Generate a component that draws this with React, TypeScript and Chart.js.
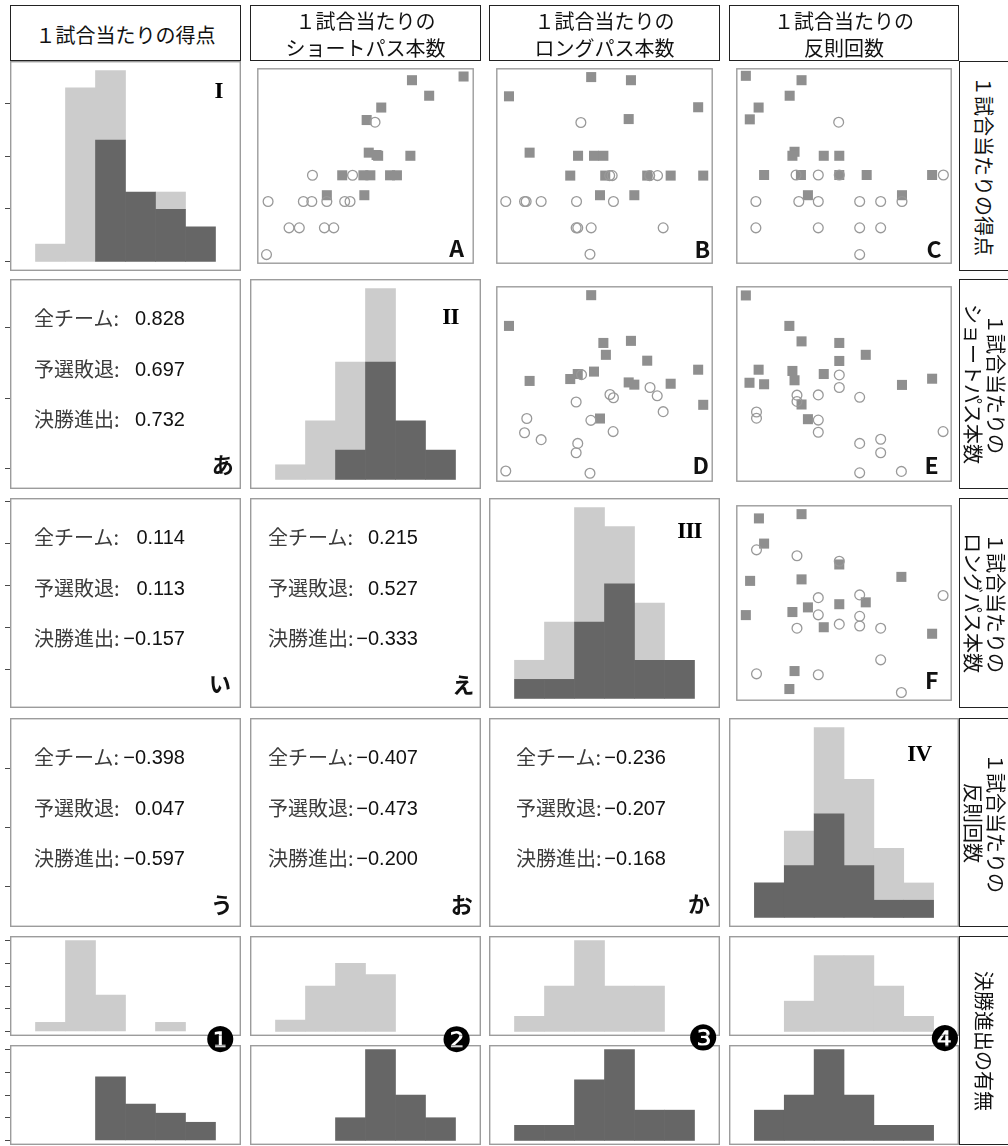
import React, { useEffect, useRef } from 'react';
import { Chart, registerables } from 'chart.js';

Chart.register(...registerables);

// ---------------- data ----------------
const binCenters = [0.5, 1.5, 2.5, 3.5, 4.5, 5.5];
const binEdges = [0, 1, 2, 3, 4, 5, 6];

// histogram counts per bin (決勝進出 = finalists, 予選敗退 = group exits)
const finalScore = [0, 0, 7, 4, 3, 2];
const exitScore = [1, 10, 4, 0, 1, 0];
const finalShort = [0, 0, 2, 8, 4, 2];
const exitShort = [1, 4, 6, 5, 0, 0];
const finalLong = [1, 1, 4, 6, 2, 2];
const exitLong = [1, 3, 6, 3, 3, 0];
const finalFoul = [2, 3, 6, 3, 1, 1];
const exitFoul = [0, 2, 5, 5, 3, 1];

// axis ticks
const scoreTicks = [0.5, 1.0, 1.5, 2.0];
const shortTicks = [300, 400, 500];
const longTicks = [50, 60, 70, 80, 90];
const foulTicks = [10, 12, 14];
const countTicks = [0, 2.5, 5, 7.5, 10];

// variable ranges (score, short passes, long passes, fouls)
const scoreRange: [number, number] = [0.4045, 2.41];
const shortRange: [number, number] = [270, 570];
const longRange: [number, number] = [40.95, 90.95];
const foulRange: [number, number] = [8.61, 15.7];

// scatter A: x = short passes, y = score
const aExits: [number, number][] = [
  [433.2, 1.856], [346.6, 1.312], [402.1, 1.312], [285.2, 1.044], [334.0, 1.044], [345.7, 1.044],
  [366.5, 1.044], [391.2, 1.044], [398.6, 1.044], [314.2, 0.774], [328.4, 0.774], [363.1, 0.774],
  [376.1, 0.774], [283.0, 0.5],
];
const aFinals: [number, number][] = [
  [555.7, 2.324], [484.3, 2.286], [508.1, 2.127], [441.8, 2.006], [421.6, 1.878], [424.5, 1.544],
  [437.5, 1.512], [482.1, 1.512], [387.8, 1.312], [417.1, 1.312], [426.7, 1.312], [454.0, 1.312],
  [463.5, 1.312], [366.5, 1.108], [418.4, 1.108], [435.3, 1.52],
];
// scatter B: x = long passes, y = score
const bExits: [number, number][] = [
  [60.5, 1.853], [67.72, 1.309], [76.38, 1.309], [78.18, 1.309], [67.14, 1.309], [43.18, 1.044],
  [47.51, 1.044], [47.88, 1.044], [51.34, 1.044], [59.5, 1.044], [68.01, 1.044], [59.41, 0.774],
  [59.78, 0.774], [62.88, 0.774], [79.48, 0.774], [62.6, 0.503],
];
const bFinals: [number, number][] = [
  [62.88, 2.318], [72.05, 2.286], [43.92, 2.121], [87.55, 2.009], [71.53, 1.888], [48.68, 1.544],
  [59.85, 1.512], [63.53, 1.512], [65.69, 1.512], [58.05, 1.309], [66.12, 1.309], [75.8, 1.309],
  [81.21, 1.309], [88.72, 1.309], [64.91, 1.108], [72.83, 1.108],
];
// scatter C: x = fouls, y = score
const cExits: [number, number][] = [
  [11.98, 1.856], [10.58, 1.315], [11.31, 1.315], [12.0, 1.315], [15.42, 1.315], [9.26, 1.044],
  [10.67, 1.044], [11.31, 1.044], [12.67, 1.044], [13.36, 1.044], [14.06, 1.044], [9.26, 0.774],
  [11.31, 0.774], [12.67, 0.774], [13.36, 0.774], [12.67, 0.5],
];
const cFinals: [number, number][] = [
  [8.93, 2.331], [10.76, 2.286], [10.37, 2.127], [9.35, 2.006], [9.06, 1.885], [10.53, 1.553],
  [10.46, 1.512], [11.49, 1.512], [12.0, 1.512], [9.53, 1.315], [10.74, 1.315], [12.0, 1.315],
  [12.9, 1.315], [15.05, 1.315], [10.97, 1.108], [14.06, 1.108],
];
// scatter D: x = long passes, y = short passes
const dExits: [number, number][] = [
  [60.65, 434.3], [76.45, 414.7], [67.21, 403.9], [68.01, 399.0], [78.11, 401.9], [59.41, 392.4],
  [79.48, 377.6], [48.03, 367.1], [62.81, 364.3], [47.51, 345.3], [67.94, 347.1], [51.34, 334.7],
  [59.78, 329.0], [59.41, 314.7], [43.18, 286.7], [62.6, 283.3],
];
const dFinals: [number, number][] = [
  [62.88, 556.1], [43.92, 509.0], [65.69, 482.9], [72.05, 486.1], [66.27, 464.7], [75.8, 455.7],
  [63.53, 439.0], [59.78, 435.3], [58.05, 427.6], [87.55, 441.9], [48.68, 424.7], [71.53, 422.4],
  [72.83, 419.0], [81.21, 420.4], [88.72, 388.1], [64.91, 367.1],
];
// scatter E: x = fouls, y = short passes
const eExits: [number, number][] = [
  [12.0, 433.9], [12.0, 414.7], [10.61, 402.9], [10.61, 393.3], [11.31, 403.3], [12.67, 399.6],
  [9.28, 377.1], [9.28, 367.6], [11.31, 364.7], [11.31, 346.1], [15.41, 347.1], [12.67, 329.0],
  [13.36, 335.3], [13.36, 314.7], [12.67, 283.9], [14.04, 286.1],
];
const eFinals: [number, number][] = [
  [8.93, 555.7], [10.36, 509.0], [10.76, 485.3], [12.0, 482.9], [12.87, 464.7], [12.0, 455.3],
  [9.35, 441.9], [10.46, 440.0], [10.53, 425.7], [11.49, 435.3], [9.05, 421.9], [9.53, 419.6],
  [14.06, 418.6], [15.05, 428.1], [10.76, 388.6], [10.97, 366.1],
];
// scatter F: x = fouls, y = long passes
const fExits: [number, number][] = [
  [9.28, 79.52], [10.61, 78.02], [12.0, 76.6], [12.67, 68.02], [11.31, 67.31], [15.41, 67.86],
  [11.31, 62.93], [12.67, 62.55], [10.61, 59.52], [12.0, 60.55], [12.67, 60.07], [13.36, 59.52],
  [13.36, 51.43], [9.28, 47.86], [11.31, 47.62], [14.04, 43.1],
];
const fFinals: [number, number][] = [
  [9.36, 87.55], [10.76, 88.64], [9.53, 81.12], [12.0, 75.79], [9.07, 71.6], [10.76, 71.98],
  [14.04, 72.62], [12.87, 66.12], [12.0, 65.64], [10.97, 64.83], [10.46, 63.64], [8.93, 62.86],
  [11.49, 59.76], [15.05, 58.1], [10.53, 48.57], [10.36, 43.98],
];

// correlation text
const corrLabels = ['全チーム', '予選敗退', '決勝進出'];
const corrAi = [0.828, 0.697, 0.732];
const corrI = [0.114, 0.113, -0.157];
const corrU = [-0.398, 0.047, -0.597];
const corrE = [0.215, 0.527, -0.333];
const corrO = [-0.407, -0.473, -0.2];
const corrKa = [-0.236, -0.207, -0.168];

const headerLabels = ['１試合当たりの得点', '１試合当たりの\nショートパス本数', '１試合当たりの\nロングパス本数', '１試合当たりの\n反則回数'];
const stripLabels = ['１試合当たりの得点', '１試合当たりの\nショートパス本数', '１試合当たりの\nロングパス本数', '１試合当たりの\n反則回数', '決勝進出の有無'];

// ---------------- layout ----------------
const colX = [10, 250, 489, 729];
const colW = [231, 231, 231, 230];
const rowY = [61, 279, 498, 718];
const rowH = [210, 210, 210, 209];
const botY = [936, 1045];
const botH = 100;
const AXIS = 5;

const LIGHT = '#cccccc';
const DARK = '#666666';
const SQUARE = '#8f8f8f';
const CIRCLE = '#999999';
const JP = '"Noto Sans CJK JP", "Noto Sans CJK SC", sans-serif';

const varRanges = [scoreRange, shortRange, longRange, foulRange];
const varTicks = [scoreTicks, shortTicks, longTicks, foulTicks];
const finals = [finalScore, finalShort, finalLong, finalFoul];
const exits = [exitScore, exitShort, exitLong, exitFoul];

const panelBorder = {
  id: 'panelBorder',
  afterDraw(chart: any) {
    const { ctx, chartArea: a } = chart;
    ctx.save();
    ctx.strokeStyle = '#9c9c9c';
    ctx.lineWidth = 1.4;
    ctx.strokeRect(a.left + 0.7, a.top + 0.7, a.right - a.left - 1.4, a.bottom - a.top - 1.4);
    ctx.restore();
  },
};

function setTicks(ticks: number[]) {
  return (s: any) => {
    s.ticks = ticks.map((v) => ({ value: v }));
  };
}

function hiddenAxis(range: [number, number], ticks?: number[], extra: any = {}) {
  return {
    type: 'linear',
    display: false,
    min: range[0],
    max: range[1],
    bounds: 'data',
    ...(ticks ? { afterBuildTicks: setTicks(ticks) } : {}),
    ...extra,
  };
}

function tickAxis(range: [number, number], ticks: number[], extra: any = {}) {
  return {
    type: 'linear',
    position: 'left',
    display: true,
    min: range[0],
    max: range[1],
    bounds: 'data',
    afterBuildTicks: setTicks(ticks),
    ticks: { display: false },
    grid: { display: true, drawOnChartArea: false, drawTicks: true, tickLength: AXIS, color: '#4a4a4a', lineWidth: 1 },
    border: { display: false },
    ...extra,
  };
}

function baseOptions(scales: any) {
  return {
    animation: false,
    responsive: false,
    events: [],
    layout: { padding: 0 },
    plugins: { legend: { display: false }, tooltip: { enabled: false }, title: { display: false } },
    scales,
  };
}

function bars(counts: number[], color: string) {
  return {
    data: counts.map((v, i) => ({ x: binCenters[i], y: v === 0 ? null : v })),
    backgroundColor: color, borderWidth: 0, barPercentage: 1, categoryPercentage: 1, stack: 's',
  };
}

function histConfig(fin: number[] | null, exit: number[] | null, yMax: number, axis: 'none' | 'own' | 'score') {
  const datasets: any[] = [];
  if (fin) datasets.push(bars(fin, DARK));
  if (exit) datasets.push(bars(exit, LIGHT));
  const yr: [number, number] = [-0.05 * yMax, 1.05 * yMax];
  const scales: any = {
    x: hiddenAxis([-0.3, 6.3], binEdges, { stacked: true }),
    y: axis === 'own' ? tickAxis(yr, countTicks, { stacked: true }) : hiddenAxis(yr, undefined, { stacked: true }),
  };
  if (axis === 'score') scales.ys = tickAxis(scoreRange, scoreTicks);
  return { type: 'bar', data: { datasets }, options: baseOptions(scales), plugins: [panelBorder] };
}

function scatterConfig(ex: [number, number][], fi: [number, number][], xr: [number, number], yr: [number, number]) {
  return {
    type: 'scatter',
    data: {
      datasets: [
        {
          data: ex.map(([x, y]) => ({ x, y })),
          pointStyle: 'circle', pointRadius: 4.9, borderWidth: 1.3,
          borderColor: CIRCLE, backgroundColor: 'rgba(255,255,255,0)',
        },
        {
          data: fi.map(([x, y]) => ({ x, y })),
          pointStyle: 'rect', pointRadius: 7.1, borderWidth: 0,
          borderColor: SQUARE, backgroundColor: SQUARE,
        },
      ],
    },
    options: baseOptions({ x: hiddenAxis(xr), y: hiddenAxis(yr) }),
    plugins: [panelBorder],
  };
}

function emptyConfig(rowVar: number, withAxis: boolean) {
  return {
    type: 'scatter',
    data: { datasets: [] },
    options: baseOptions({
      x: hiddenAxis([0, 1]),
      y: withAxis ? tickAxis(varRanges[rowVar], varTicks[rowVar]) : hiddenAxis(varRanges[rowVar]),
    }),
    plugins: [panelBorder],
  };
}

function ChartCanvas({ left, top, width, height, build }: any) {
  const ref = useRef<HTMLCanvasElement | null>(null);
  useEffect(() => {
    const chart = new Chart(ref.current as HTMLCanvasElement, build());
    return () => chart.destroy();
  }, []);
  return (
    <canvas
      ref={ref}
      width={width}
      height={height}
      style={{ position: 'absolute', left, top, width, height, display: 'block' }}
    />
  );
}

function fmt(v: number) {
  return (v < 0 ? '−' : '') + Math.abs(v).toFixed(3);
}

export default function App() {
  const charts: any[] = [];
  const place = (key: string, col: number, top: number, height: number, build: () => any) => {
    const left = col === 0 ? colX[0] - AXIS : colX[col];
    const width = col === 0 ? colW[0] + AXIS : colW[col];
    charts.push({ key, left, top, width, height, build });
  };

  // diagonal histograms
  for (let k = 0; k < 4; k++) {
    const m = Math.max(...finals[k].map((v, i) => v + exits[k][i]));
    place('diag' + k, k, rowY[k], rowH[k], () => histConfig(finals[k], exits[k], m, k === 0 ? 'score' : 'none'));
  }
  // scatter panels
  const scatters: [number, number, [number, number][], [number, number][]][] = [
    [0, 1, aExits, aFinals],
    [0, 2, bExits, bFinals],
    [0, 3, cExits, cFinals],
    [1, 2, dExits, dFinals],
    [1, 3, eExits, eFinals],
    [2, 3, fExits, fFinals],
  ];
  scatters.forEach(([r, c, ex, fi]) => {
    place('sc' + r + c, c, rowY[r], rowH[r], () => scatterConfig(ex, fi, varRanges[c], varRanges[r]));
  });
  // text panels
  const texts: [number, number, number[], string][] = [
    [1, 0, corrAi, 'あ'],
    [2, 0, corrI, 'い'],
    [3, 0, corrU, 'う'],
    [2, 1, corrE, 'え'],
    [3, 1, corrO, 'お'],
    [3, 2, corrKa, 'か'],
  ];
  texts.forEach(([r, c]) => {
    place('tx' + r + c, c, rowY[r], rowH[r], () => emptyConfig(r, c === 0));
  });
  // bottom row histograms
  for (let c = 0; c < 4; c++) {
    const m = Math.max(...finals[c], ...exits[c]);
    place('ba' + c, c, botY[0], botH, () => histConfig(null, exits[c], m, c === 0 ? 'own' : 'none'));
    place('bb' + c, c, botY[1], botH, () => histConfig(finals[c], null, m, c === 0 ? 'own' : 'none'));
  }

  const labelOff = [24, 18, 27];
  const valueRight = [175, 168, 177];

  const tagPos: Record<string, [number, number]> = {
    あ: [222.7, 463.3], い: [220, 681.7], う: [221.7, 903.3], え: [463.3, 682.7], お: [461.7, 903.3], か: [699, 901.7],
  };
  const letters: [string, number, number][] = [
    ['A', 456.7, 246.7], ['B', 702.3, 248.3], ['C', 934, 248.3],
    ['D', 700.7, 464.3], ['E', 931.7, 464.3], ['F', 931.7, 679.3],
  ];
  const romans: [string, number, number][] = [
    ['I', 218.5, 90], ['II', 450.5, 316], ['III', 689.5, 530], ['IV', 919.3, 752.5],
  ];
  const circled: [string, number, number][] = [
    ['❶', 220.5, 1039.5], ['❷', 456.7, 1039.5], ['❸', 703, 1038.3], ['❹', 944.7, 1039],
  ];
  const stripY = [rowY[0], rowY[1], rowY[2], rowY[3], botY[0]];
  const stripH = [rowH[0], rowH[1], rowH[2], rowH[3], botY[1] + botH - botY[0]];

  const centered = (cx: number, cy: number): React.CSSProperties => ({
    position: 'absolute', left: cx, top: cy, transform: 'translate(-50%, -50%)', lineHeight: 1, whiteSpace: 'nowrap',
  });

  return (
    <div style={{ position: 'absolute', left: 0, top: 0, width: 1008, height: 1146, overflow: 'hidden', background: '#fff' }}>
      {charts.map((c) => (
        <ChartCanvas key={c.key} left={c.left} top={c.top} width={c.width} height={c.height} build={c.build} />
      ))}

      {headerLabels.map((t, i) => (
        <div
          key={'h' + i}
          style={{
            position: 'absolute', left: colX[i], top: 5, width: colW[i], height: 56, boxSizing: 'border-box',
            border: '1px solid #222', display: 'flex', alignItems: 'center', justifyContent: 'center',
            textAlign: 'center', whiteSpace: 'pre-line', fontFamily: JP, fontSize: 20, lineHeight: '27px',
            color: '#111', paddingTop: 2,
          }}
        >
          {t}
        </div>
      ))}

      {stripLabels.map((t, i) => (
        <div
          key={'s' + i}
          style={{
            position: 'absolute', left: 959, top: stripY[i], width: 50, height: stripH[i], boxSizing: 'border-box',
            borderTop: '1px solid #222', borderBottom: '1px solid #222', borderLeft: '1px solid #222',
            display: 'flex', alignItems: 'center', justifyContent: 'center',
          }}
        >
          <div
            style={{
              writingMode: 'vertical-rl', textOrientation: 'sideways', whiteSpace: 'pre-line', textAlign: 'center',
              fontFamily: JP, fontSize: 20, lineHeight: '23px', color: '#111',
            }}
          >
            {t}
          </div>
        </div>
      ))}

      {texts.map(([r, c, vals, tag]) => (
        <React.Fragment key={'t' + r + c}>
          {vals.map((v, i) => {
            const cy = rowY[r] + 39 + 50.5 * i;
            return (
              <React.Fragment key={i}>
                <div
                  style={{
                    position: 'absolute', left: colX[c] + labelOff[c], top: cy - 14, height: 28, lineHeight: '28px',
                    fontFamily: JP, fontSize: 20, color: '#3c3c3c', whiteSpace: 'nowrap',
                  }}
                >
                  {corrLabels[i]}:
                </div>
                <div
                  style={{
                    position: 'absolute', left: colX[c] + valueRight[c] - 120, width: 120, textAlign: 'right',
                    top: cy - 14, height: 28, lineHeight: '28px', fontFamily: '"Liberation Sans", Arial, sans-serif',
                    fontSize: 20, color: '#111', whiteSpace: 'nowrap',
                  }}
                >
                  {fmt(v)}
                </div>
              </React.Fragment>
            );
          })}
          <div style={{ ...centered(tagPos[tag][0], tagPos[tag][1]), fontFamily: JP, fontWeight: 700, fontSize: 22, color: '#111' }}>
            {tag}
          </div>
        </React.Fragment>
      ))}

      {letters.map(([t, x, y]) => (
        <div key={'l' + t} style={{ ...centered(x, y), fontFamily: JP, fontWeight: 700, fontSize: 23, color: '#111' }}>
          {t}
        </div>
      ))}
      {romans.map(([t, x, y]) => (
        <div
          key={'r' + t}
          style={{ ...centered(x, y), fontFamily: '"Liberation Serif", "DejaVu Serif", serif', fontWeight: 700, fontSize: 23, letterSpacing: -0.8, color: '#000' }}
        >
          {t}
        </div>
      ))}
      {circled.map(([t, x, y]) => (
        <div key={'c' + t} style={{ ...centered(x, y), fontFamily: '"DejaVu Sans", sans-serif', fontSize: 35, color: '#000' }}>
          {t}
        </div>
      ))}
    </div>
  );
}
